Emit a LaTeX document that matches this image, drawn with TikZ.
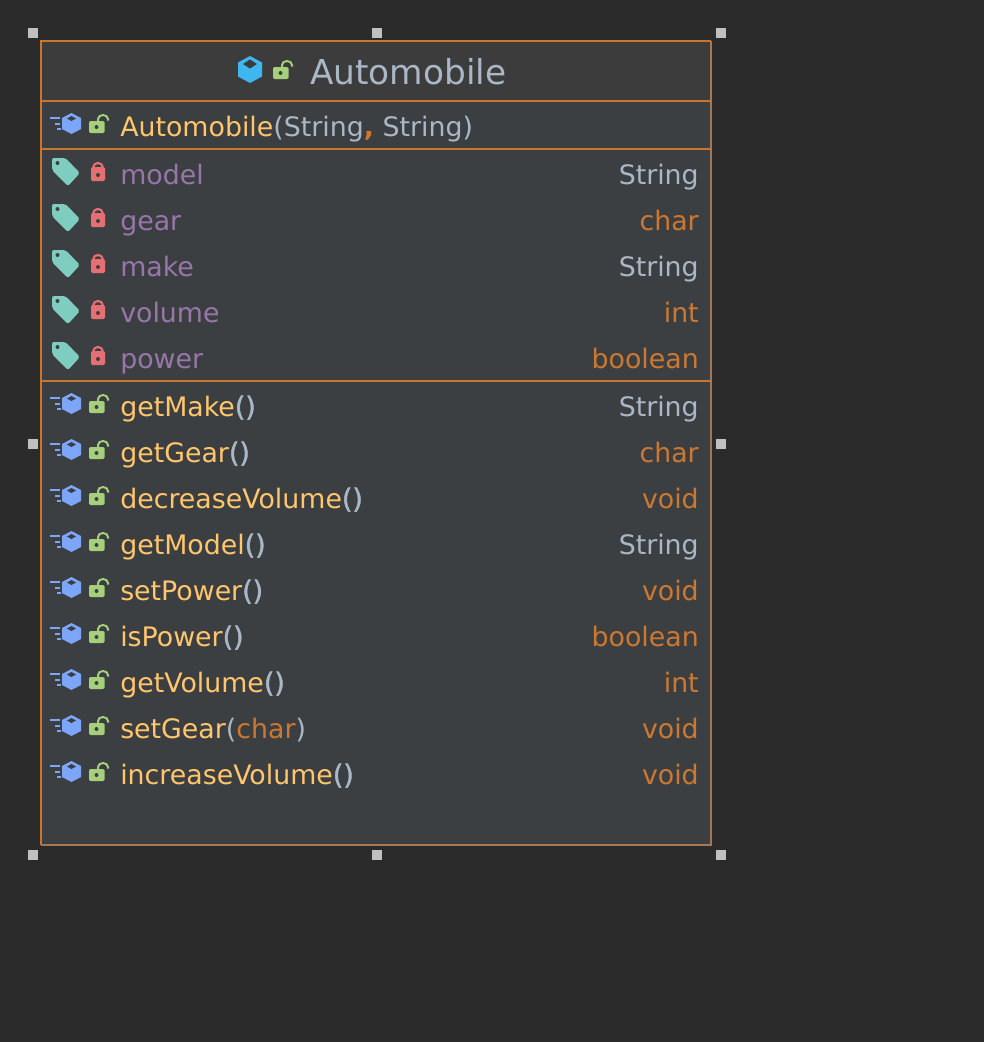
\documentclass[tikz,border=0pt]{standalone}
\usepackage{fontspec}
\setmainfont{DejaVu Sans}
\newfontfamily\heavyfont[FakeBold=1.6]{DejaVu Sans}
\definecolor{bgdark}{HTML}{2B2B2B}
\definecolor{panel}{HTML}{3C3F41}
\definecolor{titlebg}{HTML}{3C3C3C}
\definecolor{rule}{HTML}{C8752D}
\definecolor{ruledim}{HTML}{A67750}
\definecolor{handle}{HTML}{C0C0C0}
\definecolor{plain}{HTML}{A9B7C6}
\definecolor{method}{HTML}{FFC66D}
\definecolor{kw}{HTML}{CC7832}
\definecolor{field}{HTML}{9876AA}
\definecolor{cubeblue}{HTML}{40B6F0}
\definecolor{mblue}{HTML}{7DA5F8}
\definecolor{lockgreen}{HTML}{A6CF7C}
\definecolor{lockred}{HTML}{E56F73}
\definecolor{tagteal}{HTML}{7FCCC0}
\newcommand{\pxfont}[1]{\fontsize{#1}{#1}\selectfont}
\newcommand{\pars}{{\heavyfont ()}}
\tikzset{
  x=0.75pt,y=-0.75pt,
  rowtext/.style={inner sep=0pt,anchor=base west,font=\pxfont{20.1pt},text=plain},
  typetext/.style={inner sep=0pt,anchor=base east,font=\pxfont{20.1pt}},
  handlebox/.style={fill=handle,draw=none,minimum size=7.5pt,inner sep=0pt,shape=rectangle},
  sep/.style={draw=rule,line width=1.5pt},
}
\newcommand{\openlock}[2]{%
  \begin{scope}[shift={(#1,#2)}]
    \draw[lockgreen,line width=1.5pt] (98,-13) -- (98,-17) arc[start angle=180,end angle=0,x radius=5,y radius=-4] -- (108,-15.5);
    \fill[lockgreen,rounded corners=1pt] (89,-15) rectangle (104.5,-3);
    \fill[panel] (96.5,-9) circle[radius=2];
  \end{scope}}
\newcommand{\closedlock}[1]{%
  \begin{scope}[shift={(0,#1)}]
    \draw[lockred,line width=1.6pt] (93.5,-15) -- (93.5,-17.5) arc[start angle=180,end angle=0,x radius=4.5,y radius=-3.5] -- (102.5,-15);
    \fill[lockred,rounded corners=1pt] (91,-17) rectangle (105,-3);
    \fill[panel] (98,-9) circle[radius=2];
  \end{scope}}
\newcommand{\methodicon}[1]{%
  \begin{scope}[shift={(0,#1)}]
    \fill[mblue] (71.5,-23) -- (81,-18) -- (81,-7) -- (71.5,-2) -- (62,-7) -- (62,-18) -- cycle;
    \fill[panel] (71.5,-20) -- (76,-17.5) -- (71.5,-15) -- (67,-17.5) -- cycle;
    \fill[mblue] (50,-19) rectangle (60,-17);
    \fill[mblue] (55,-13.5) rectangle (60,-11.5);
    \fill[mblue] (57,-8.5) rectangle (60.5,-6.5);
  \end{scope}
  \openlock{0}{#1}}
\newcommand{\fieldicon}[1]{%
  \begin{scope}[shift={(0,#1)}]
    \fill[tagteal,rounded corners=1.5pt] (52,-26) -- (65.5,-26) -- (80,-11) -- (68,2) -- (52,-14) -- cycle;
    \fill[panel] (57.5,-21) circle[radius=2];
  \end{scope}
  \closedlock{#1}}
\begin{document}
\begin{tikzpicture}
\useasboundingbox (0,0) rectangle (984,1042);
\fill[bgdark] (0,0) rectangle (984,1042);
% class panel
\coordinate (tl) at (41,41);
\coordinate (tr) at (711,41);
\coordinate (bl) at (41,845);
\coordinate (br) at (711,845);
\fill[panel] (tl) rectangle (br);
\fill[titlebg] (tl) rectangle (711,101);
% separators
\coordinate (s1l) at (41,101); \coordinate (s1r) at (711,101);
\coordinate (s2l) at (41,149); \coordinate (s2r) at (711,149);
\coordinate (s3l) at (41,381); \coordinate (s3r) at (711,381);
\draw[sep] (s1l) -- (s1r);
\draw[sep] (s2l) -- (s2r);
\draw[sep] (s3l) -- (s3r);
\draw[draw=ruledim,line width=0.8pt] (bl) -- (br) -- (tr);
\draw[draw=rule,line width=1.1pt] (bl) -- (tl) -- (tr);
% handles
\node[handlebox] (h1) at (33,33) {};
\node[handlebox] (h2) at (377,33) {};
\node[handlebox] (h3) at (721,33) {};
\node[handlebox] (h4) at (33,444) {};
\node[handlebox] (h5) at (721,444) {};
\node[handlebox] (h6) at (33,855) {};
\node[handlebox] (h7) at (377,855) {};
\node[handlebox] (h8) at (721,855) {};
% title
\fill[cubeblue] (250,56) -- (262,62.5) -- (262,76.5) -- (250,83) -- (238,76.5) -- (238,62.5) -- cycle;
\fill[titlebg] (250,59.5) -- (257,64) -- (250,68.5) -- (243,64) -- cycle;
\openlock{184}{82}
\node[rowtext,font=\pxfont{25.75pt},text=plain] (title) at (310,84) {Automobile};
% constructor
\methodicon{136}
\node[rowtext] (ctor) at (120,136) {\textcolor{method}{Automobile}(String\textcolor{kw}{\textbf{,}} String)};
% fields
\fieldicon{184}
\node[rowtext,text=field] (f1) at (120,184) {model};
\node[typetext,text=plain] (t1) at (699,184) {String};
\fieldicon{230}
\node[rowtext,text=field] (f2) at (120,230) {gear};
\node[typetext,text=kw] (t2) at (699,230) {char};
\fieldicon{276}
\node[rowtext,text=field] (f3) at (120,276) {make};
\node[typetext,text=plain] (t3) at (699,276) {String};
\fieldicon{322}
\node[rowtext,text=field] (f4) at (120,322) {volume};
\node[typetext,text=kw] (t4) at (699,322) {int};
\fieldicon{368}
\node[rowtext,text=field] (f5) at (120,368) {power};
\node[typetext,text=kw] (t5) at (699,368) {boolean};
% methods
\methodicon{416}
\node[rowtext] (m1) at (120,416) {\textcolor{method}{getMake}\pars};
\node[typetext,text=plain] (r1) at (699,416) {String};
\methodicon{462}
\node[rowtext] (m2) at (120,462) {\textcolor{method}{getGear}\pars};
\node[typetext,text=kw] (r2) at (699,462) {char};
\methodicon{508}
\node[rowtext] (m3) at (120,508) {\textcolor{method}{decreaseVolume}\pars};
\node[typetext,text=kw] (r3) at (699,508) {void};
\methodicon{554}
\node[rowtext] (m4) at (120,554) {\textcolor{method}{getModel}\pars};
\node[typetext,text=plain] (r4) at (699,554) {String};
\methodicon{600}
\node[rowtext] (m5) at (120,600) {\textcolor{method}{setPower}\pars};
\node[typetext,text=kw] (r5) at (699,600) {void};
\methodicon{646}
\node[rowtext] (m6) at (120,646) {\textcolor{method}{isPower}\pars};
\node[typetext,text=kw] (r6) at (699,646) {boolean};
\methodicon{692}
\node[rowtext] (m7) at (120,692) {\textcolor{method}{getVolume}\pars};
\node[typetext,text=kw] (r7) at (699,692) {int};
\methodicon{738}
\node[rowtext] (m8) at (120,738) {\textcolor{method}{setGear}(\textcolor{kw}{char})};
\node[typetext,text=kw] (r8) at (699,738) {void};
\methodicon{784}
\node[rowtext] (m9) at (120,784) {\textcolor{method}{increaseVolume}\pars};
\node[typetext,text=kw] (r9) at (699,784) {void};
\end{tikzpicture}
\end{document}
